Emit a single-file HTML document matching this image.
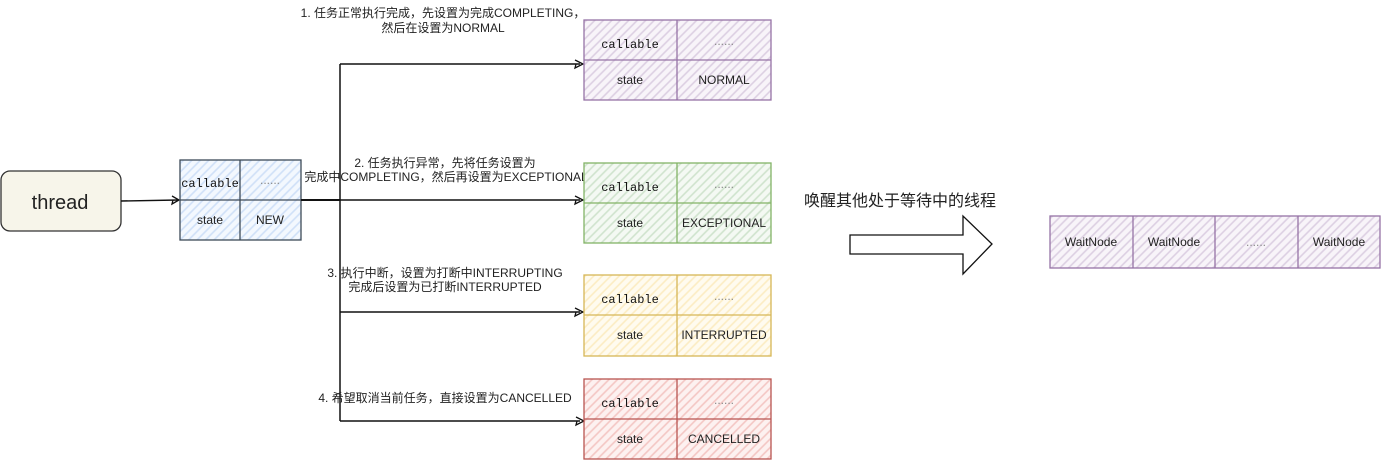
<!DOCTYPE html>
<html>
<head>
<meta charset="utf-8">
<style>
  html, body { margin: 0; padding: 0; background: #ffffff; }
  svg { display: block; }
  .t { font-family: "Liberation Sans", "Noto Sans CJK SC", sans-serif; font-size: 12px; fill: #222; }
  .m { font-family: "Liberation Mono", "DejaVu Sans Mono", monospace; font-size: 12px; fill: #111; }
  .d { font-family: "Liberation Sans", sans-serif; font-size: 12px; fill: #888; }
  .lbl { font-family: "Liberation Sans", "Noto Sans CJK SC", sans-serif; font-size: 12px; fill: #222; }
</style>
</head>
<body>
<svg width="1381" height="460" viewBox="0 0 1381 460" xmlns="http://www.w3.org/2000/svg">
  <defs>
    <pattern id="hBlue" patternUnits="userSpaceOnUse" width="6" height="6" patternTransform="rotate(-45)">
      <rect width="6" height="6" fill="#f3f8fe"/>
      <line x1="0" y1="3" x2="6" y2="3" stroke="#cfe0f8" stroke-width="1.6"/>
    </pattern>
    <pattern id="hPurple" patternUnits="userSpaceOnUse" width="6" height="6" patternTransform="rotate(-45)">
      <rect width="6" height="6" fill="#f8f4f9"/>
      <line x1="0" y1="3" x2="6" y2="3" stroke="#dccfe2" stroke-width="1.6"/>
    </pattern>
    <pattern id="hGreen" patternUnits="userSpaceOnUse" width="6" height="6" patternTransform="rotate(-45)">
      <rect width="6" height="6" fill="#f4f9f3"/>
      <line x1="0" y1="3" x2="6" y2="3" stroke="#cfe3cd" stroke-width="1.6"/>
    </pattern>
    <pattern id="hYellow" patternUnits="userSpaceOnUse" width="6" height="6" patternTransform="rotate(-45)">
      <rect width="6" height="6" fill="#fffbef"/>
      <line x1="0" y1="3" x2="6" y2="3" stroke="#fcecc2" stroke-width="1.6"/>
    </pattern>
    <pattern id="hRed" patternUnits="userSpaceOnUse" width="6" height="6" patternTransform="rotate(-45)">
      <rect width="6" height="6" fill="#fdf1f0"/>
      <line x1="0" y1="3" x2="6" y2="3" stroke="#f4c6c3" stroke-width="1.6"/>
    </pattern>
  </defs>

  <!-- thread box -->
  <rect x="1" y="171" width="120" height="60" rx="9" ry="9" fill="#f7f5ea" stroke="#333" stroke-width="1.3"/>
  <text x="60" y="209" text-anchor="middle" font-family="Liberation Sans, sans-serif" font-size="20" fill="#222">thread</text>

  <!-- thread -> NEW arrow -->
  <line x1="121" y1="201" x2="178" y2="200" stroke="#111" stroke-width="1.4"/>
  <polyline points="172,196 179,200 172,204 173,200" fill="none" stroke="#111" stroke-width="1.3"/>

  <!-- NEW box -->
  <rect x="180" y="160" width="121" height="80" fill="url(#hBlue)" stroke="#3d4a57" stroke-width="1.3"/>
  <line x1="240" y1="160" x2="240" y2="240" stroke="#3d4a57" stroke-width="1.3"/>
  <line x1="180" y1="200" x2="301" y2="200" stroke="#3d4a57" stroke-width="1.3"/>
  <text class="m" x="210" y="187" text-anchor="middle">callable</text>
  <text class="d" x="270" y="184" text-anchor="middle">......</text>
  <text class="t" x="210" y="224" text-anchor="middle">state</text>
  <text class="t" x="270" y="224" text-anchor="middle">NEW</text>

  <!-- connectors -->
  <line x1="301" y1="200" x2="340" y2="200" stroke="#111" stroke-width="2"/>
  <line x1="340" y1="64" x2="340" y2="421" stroke="#111" stroke-width="1.5"/>
  <line x1="340" y1="64" x2="580" y2="64" stroke="#111" stroke-width="1.4"/>
  <line x1="340" y1="200" x2="580" y2="200" stroke="#111" stroke-width="1.6"/>
  <line x1="340" y1="312" x2="580" y2="312" stroke="#111" stroke-width="1.4"/>
  <line x1="340" y1="421" x2="580" y2="421" stroke="#111" stroke-width="1.4"/>
  <polyline points="575,60 583,64 575,68 576,64" fill="none" stroke="#111" stroke-width="1.3"/>
  <polyline points="575,196 583,200 575,204 576,200" fill="none" stroke="#111" stroke-width="1.3"/>
  <polyline points="575,308 583,312 575,316 576,312" fill="none" stroke="#111" stroke-width="1.3"/>
  <polyline points="576,417 584,421 576,425 577,421" fill="none" stroke="#111" stroke-width="1.3"/>

  <!-- labels -->
  <text class="lbl" x="443" y="17" text-anchor="middle">1. 任务正常执行完成，先设置为完成COMPLETING，</text>
  <text class="lbl" x="443" y="32" text-anchor="middle">然后在设置为NORMAL</text>

  <text class="lbl" x="445" y="167" text-anchor="middle">2. 任务执行异常，先将任务设置为</text>
  <text class="lbl" x="446" y="181" text-anchor="middle">完成中COMPLETING，然后再设置为EXCEPTIONAL</text>

  <text class="lbl" x="445" y="277" text-anchor="middle">3. 执行中断，设置为打断中INTERRUPTING</text>
  <text class="lbl" x="445" y="291" text-anchor="middle">完成后设置为已打断INTERRUPTED</text>

  <text class="lbl" x="445" y="402" text-anchor="middle">4. 希望取消当前任务，直接设置为CANCELLED</text>

  <!-- NORMAL box -->
  <rect x="584" y="20" width="187" height="80" fill="url(#hPurple)" stroke="#9673a6" stroke-width="1.3"/>
  <line x1="677" y1="20" x2="677" y2="100" stroke="#9673a6" stroke-width="1.3"/>
  <line x1="584" y1="60" x2="771" y2="60" stroke="#9673a6" stroke-width="1.3"/>
  <text class="m" x="630" y="48" text-anchor="middle">callable</text>
  <text class="d" x="724" y="45" text-anchor="middle">......</text>
  <text class="t" x="630" y="84" text-anchor="middle">state</text>
  <text class="t" x="724" y="84" text-anchor="middle">NORMAL</text>

  <!-- EXCEPTIONAL box -->
  <rect x="584" y="163" width="187" height="80" fill="url(#hGreen)" stroke="#82b366" stroke-width="1.3"/>
  <line x1="677" y1="163" x2="677" y2="243" stroke="#82b366" stroke-width="1.3"/>
  <line x1="584" y1="203" x2="771" y2="203" stroke="#82b366" stroke-width="1.3"/>
  <text class="m" x="630" y="191" text-anchor="middle">callable</text>
  <text class="d" x="724" y="188" text-anchor="middle">......</text>
  <text class="t" x="630" y="227" text-anchor="middle">state</text>
  <text class="t" x="724" y="227" text-anchor="middle">EXCEPTIONAL</text>

  <!-- INTERRUPTED box -->
  <rect x="584" y="275" width="187" height="81" fill="url(#hYellow)" stroke="#d6b656" stroke-width="1.3"/>
  <line x1="677" y1="275" x2="677" y2="356" stroke="#d6b656" stroke-width="1.3"/>
  <line x1="584" y1="315" x2="771" y2="315" stroke="#d6b656" stroke-width="1.3"/>
  <text class="m" x="630" y="303" text-anchor="middle">callable</text>
  <text class="d" x="724" y="300" text-anchor="middle">......</text>
  <text class="t" x="630" y="339" text-anchor="middle">state</text>
  <text class="t" x="724" y="339" text-anchor="middle">INTERRUPTED</text>

  <!-- CANCELLED box -->
  <rect x="584" y="379" width="187" height="80" fill="url(#hRed)" stroke="#b85450" stroke-width="1.3"/>
  <line x1="677" y1="379" x2="677" y2="459" stroke="#b85450" stroke-width="1.3"/>
  <line x1="584" y1="419" x2="771" y2="419" stroke="#b85450" stroke-width="1.3"/>
  <text class="m" x="630" y="407" text-anchor="middle">callable</text>
  <text class="d" x="724" y="404" text-anchor="middle">......</text>
  <text class="t" x="630" y="443" text-anchor="middle">state</text>
  <text class="t" x="724" y="443" text-anchor="middle">CANCELLED</text>

  <!-- wake label -->
  <text x="900" y="206" text-anchor="middle" font-family="Liberation Sans, Noto Sans CJK SC, sans-serif" font-size="16" fill="#222">唤醒其他处于等待中的线程</text>

  <!-- big arrow -->
  <polygon points="850,235 963,235 963,216 992,244 963,274 963,254 850,254" fill="#ffffff" stroke="#111" stroke-width="1.3" stroke-linejoin="miter"/>

  <!-- WaitNode box -->
  <rect x="1050" y="216" width="330" height="52" fill="url(#hPurple)" stroke="#9673a6" stroke-width="1.3"/>
  <line x1="1133" y1="216" x2="1133" y2="268" stroke="#9673a6" stroke-width="1.3"/>
  <line x1="1215" y1="216" x2="1215" y2="268" stroke="#9673a6" stroke-width="1.3"/>
  <line x1="1298" y1="216" x2="1298" y2="268" stroke="#9673a6" stroke-width="1.3"/>
  <text class="t" x="1091" y="246" text-anchor="middle">WaitNode</text>
  <text class="t" x="1174" y="246" text-anchor="middle">WaitNode</text>
  <text class="d" x="1256" y="246" text-anchor="middle">......</text>
  <text class="t" x="1339" y="246" text-anchor="middle">WaitNode</text>
</svg>
</body>
</html>
